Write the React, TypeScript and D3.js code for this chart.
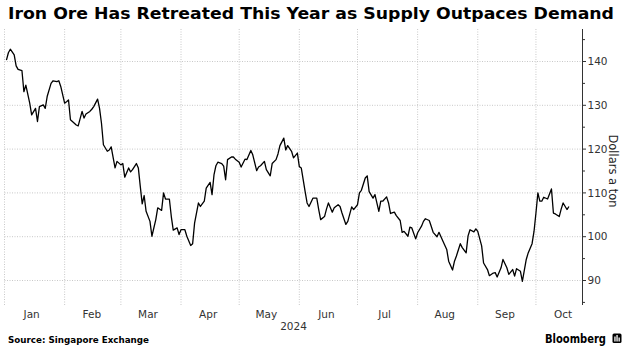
import React from "react";
import * as d3 from "d3";

const title = "Iron Ore Has Retreated This Year as Supply Outpaces Demand";
const source = "Source:  Singapore Exchange";
const yTitle = "Dollars a ton";
const yearLabel = "2024";
const monthLabels = ["Jan", "Feb", "Mar", "Apr", "May", "Jun", "Jul", "Aug", "Sep", "Oct"];
const yTicks = [90, 100, 110, 120, 130, 140];
const yMinorTicks = [85, 95, 105, 115, 125, 135, 145];

const dates = [
  "01-02","01-03","01-04","01-06","01-07","01-08","01-10","01-11","01-12","01-14",
  "01-15","01-17","01-18","01-19","01-21","01-22","01-23","01-25","01-26","01-28",
  "01-29","01-30","02-01","02-02","02-03","02-04","02-05","02-07","02-08","02-10",
  "02-11","02-12","02-14","02-15","02-16","02-18","02-19","02-20","02-21","02-23",
  "02-24","02-25","02-27","02-28","03-01","03-02","03-03","03-05","03-06","03-07",
  "03-09","03-10","03-11","03-12","03-13","03-14","03-16","03-17","03-19","03-20",
  "03-22","03-23","03-24","03-26","03-27","03-28","03-30","03-31","04-01","04-03",
  "04-04","04-06","04-07","04-08","04-10","04-11","04-13","04-14","04-16","04-17",
  "04-18","04-19","04-20","04-22","04-23","04-24","04-25","04-27","04-28","04-29",
  "05-01","05-02","05-04","05-05","05-07","05-08","05-10","05-11","05-12","05-14",
  "05-15","05-17","05-18","05-20","05-21","05-22","05-24","05-25","05-26","05-28",
  "05-29","05-31","06-01","06-02","06-04","06-05","06-06","06-08","06-10","06-11",
  "06-12","06-14","06-15","06-16","06-18","06-19","06-21","06-22","06-23","06-25",
  "06-26","06-28","06-29","07-01","07-02","07-03","07-05","07-06","07-07","07-09",
  "07-10","07-12","07-13","07-14","07-16","07-17","07-18","07-20","07-21","07-23",
  "07-24","07-25","07-27","07-28","07-29","07-31","08-01","08-03","08-04","08-05",
  "08-07","08-08","08-09","08-11","08-12","08-14","08-16","08-17","08-19","08-20",
  "08-21","08-23","08-24","08-26","08-27","08-28","08-30","08-31","09-01","09-03",
  "09-04","09-06","09-07","09-09","09-10","09-11","09-13","09-14","09-16","09-17",
  "09-19","09-20","09-21","09-23","09-24","09-26","09-27","09-29","09-30","10-01",
  "10-02","10-03","10-04","10-05","10-07","10-09","10-10","10-11","10-13","10-14",
  "10-15","10-17","10-18"
];

const prices = [
  140.3,142.0,142.8,141.5,139.0,138.2,137.9,133.1,134.6,130.5,
  127.8,129.3,126.3,129.7,130.1,129.3,132.0,135.0,135.6,135.4,
  135.6,134.3,130.5,130.8,131.2,126.7,126.3,125.5,125.3,128.6,
  127.1,128.0,128.6,129.1,129.7,131.4,129.3,125.9,121.0,119.5,
  119.8,120.5,115.7,117.2,116.4,116.7,113.6,115.7,114.8,115.3,
  116.7,115.7,111.5,107.5,109.4,105.8,103.5,100.1,103.9,106.6,
  106.0,110.0,108.6,108.6,104.6,101.5,102.0,100.5,101.6,101.6,
  100.1,98.0,98.4,103.1,107.7,106.9,108.1,111.1,112.4,109.6,
  114.1,116.2,117.0,116.7,116.1,113.0,117.6,118.2,118.2,117.7,
  117.0,115.9,117.7,117.6,119.7,118.7,115.1,115.9,116.2,117.2,
  115.3,113.9,116.7,117.6,118.9,120.8,122.5,119.8,120.8,119.5,
  118.0,119.1,116.0,115.7,110.3,107.7,106.9,108.8,108.8,106.2,
  103.9,104.6,106.3,107.7,105.6,106.6,107.3,106.9,105.4,102.8,
  103.5,106.8,106.2,107.3,110.0,110.6,113.4,113.9,110.3,108.8,
  109.6,105.8,108.1,108.1,109.1,107.7,105.3,105.6,104.8,103.7,
  101.0,101.2,100.1,102.2,102.0,99.5,100.9,102.4,103.5,104.1,
  103.7,102.4,101.0,100.0,101.0,99.0,97.1,94.4,92.4,94.4,
  95.6,98.4,97.5,96.3,100.2,101.6,101.1,101.8,101.2,97.9,
  94.0,92.5,91.1,91.7,91.8,90.8,92.9,94.8,92.9,91.4,
  92.5,91.0,92.7,92.1,89.8,94.8,96.3,98.4,101.2,105.4,
  110.0,108.1,108.1,109.0,108.6,110.9,105.4,105.2,104.6,106.3,
  107.7,106.2,106.9
];

const W = 629;
const H = 355;
const FONT = "'DejaVu Sans', Verdana, sans-serif";

export default function App() {
  const parse = d3.timeParse("%Y-%m-%d");
  const points = dates.map((d, i) => ({ date: parse("2024-" + d) as Date, value: prices[i] }));

  const x = d3
    .scaleTime()
    .domain([new Date(2024, 0, 1), new Date(2024, 9, 25)])
    .range([4.5, 582.5]);
  const y = d3.scaleLinear().domain([90, 140]).range([280.5, 61.5]);

  const plotTop = 29;
  const plotBottom = 305;
  const axisX = 582.5;

  const line = d3
    .line<{ date: Date; value: number }>()
    .x((d) => x(d.date))
    .y((d) => y(d.value));

  const monthStarts = d3.timeMonth.range(new Date(2024, 0, 1), new Date(2024, 9, 2));

  return (
    <svg
      width={W}
      height={H}
      viewBox={`0 0 ${W} ${H}`}
      style={{ position: "absolute", left: 0, top: 0, background: "#fff" }}
    >
      <rect x={0} y={0} width={W} height={H} fill="#fff" />
      <text
        x={8}
        y={18.5}
        fontFamily={FONT}
        fontWeight="bold"
        fontSize={16}
        fill="#000"
        textLength={606}
        lengthAdjust="spacingAndGlyphs"
      >
        {title}
      </text>

      {/* horizontal gridlines */}
      {yTicks.map((t) => (
        <line
          key={"hg" + t}
          x1={4.5}
          x2={axisX}
          y1={y(t)}
          y2={y(t)}
          stroke="#c8c8c8"
          strokeWidth={1}
          strokeDasharray="1,1.5"
        />
      ))}
      {/* vertical gridlines */}
      {monthStarts.map((m) => (
        <line
          key={"vg" + m.getMonth()}
          x1={x(m)}
          x2={x(m)}
          y1={plotTop}
          y2={plotBottom}
          stroke="#c8c8c8"
          strokeWidth={1}
          strokeDasharray="1,1.5"
        />
      ))}

      {/* right axis */}
      <line x1={axisX} x2={axisX} y1={plotTop} y2={plotBottom} stroke="#333" strokeWidth={1} />
      {yMinorTicks.map((t) => (
        <line key={"mt" + t} x1={axisX} x2={axisX + 2.5} y1={y(t)} y2={y(t)} stroke="#333" strokeWidth={1} />
      ))}
      {yTicks.map((t) => (
        <g key={"yt" + t}>
          <line x1={axisX} x2={axisX + 3.5} y1={y(t)} y2={y(t)} stroke="#333" strokeWidth={1} />
          <text
            x={axisX + 5}
            y={y(t)}
            dy="0.35em"
            fontFamily={FONT}
            fontSize={10.5}
            fill="#333"
          >
            {t}
          </text>
        </g>
      ))}
      <text
        transform={`translate(613,171) rotate(90)`}
        textAnchor="middle"
        dy="0.35em"
        fontFamily={FONT}
        fontSize={11.5}
        fill="#222"
      >
        {yTitle}
      </text>

      {/* month labels */}
      {monthStarts.map((m, i) => (
        <text
          key={"ml" + i}
          x={x(new Date(2024, m.getMonth(), 15))}
          y={317.5}
          textAnchor="middle"
          fontFamily={FONT}
          fontSize={10.5}
          fill="#333"
        >
          {monthLabels[i]}
        </text>
      ))}
      <text
        x={(x.range()[0] + x.range()[1]) / 2}
        y={330}
        textAnchor="middle"
        fontFamily={FONT}
        fontSize={10.5}
        fill="#333"
      >
        {yearLabel}
      </text>

      {/* data line */}
      <path d={line(points) || ""} fill="none" stroke="#000" strokeWidth={1.3} strokeLinejoin="round" />

      {/* footer */}
      <text
        x={8}
        y={343}
        fontFamily={FONT}
        fontWeight="bold"
        fontSize={9}
        fill="#000"
        textLength={141}
        lengthAdjust="spacingAndGlyphs"
      >
        {source}
      </text>
      <text
        x={606}
        y={343}
        textAnchor="end"
        fontFamily={FONT}
        fontWeight="600"
        fontSize={13}
        fill="#000"
        textLength={61}
        lengthAdjust="spacingAndGlyphs"
      >
        Bloomberg
      </text>
      <g>
        <rect x={612.5} y={333.5} width={9} height={9.5} rx={1.5} fill="#000" />
        <rect x={614.3} y={336.5} width={1.3} height={5} fill="#fff" />
        <rect x={616.4} y={335} width={1.3} height={6.5} fill="#fff" />
        <rect x={618.5} y={337.5} width={1.3} height={4} fill="#fff" />
      </g>
    </svg>
  );
}
